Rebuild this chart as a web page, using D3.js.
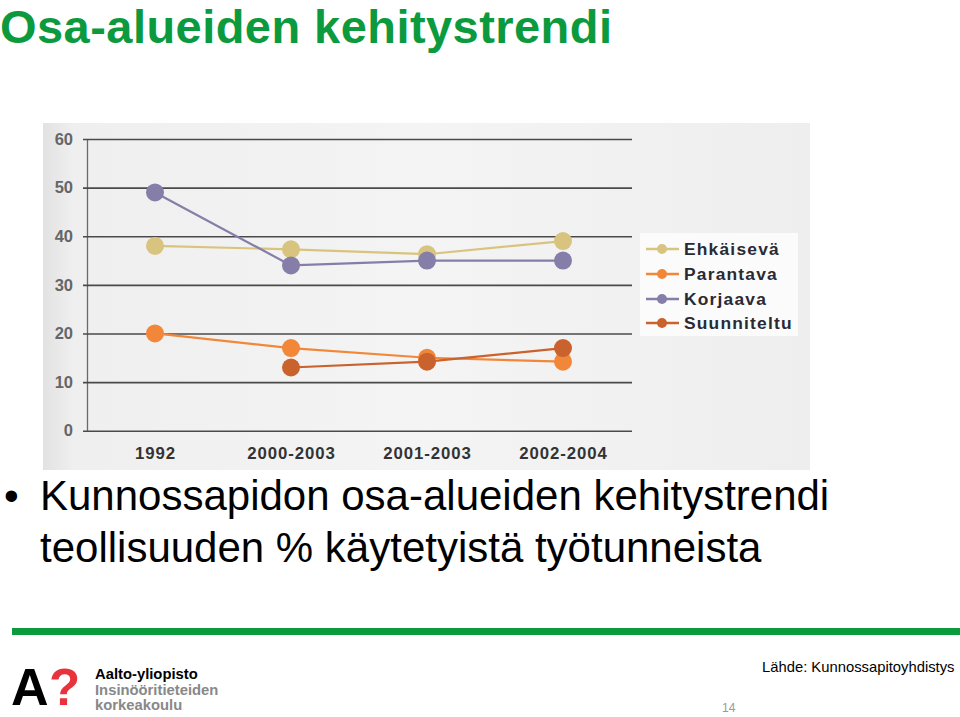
<!DOCTYPE html>
<html><head><meta charset="utf-8">
<script src="https://cdn.jsdelivr.net/npm/d3@7"></script>
<style>html,body{margin:0;padding:0;background:#fff;}svg{display:block;}</style>
</head><body>
<script>
const categories = ["1992","2000-2003","2001-2003","2002-2004"];
const seriesNames = ["Ehkäisevä","Parantava","Korjaava","Suunniteltu"];
const ehkaiseva = [38, 37.3, 36.3, 39];
const parantava = [20, 17, 15, 14.2];
const korjaava = [49, 34, 35, 35];
const suunniteltu = [null, 13, 14.2, 17];
const yTicks = [0,10,20,30,40,50,60];
const colors = ["#d9c47f","#f2873a","#857ea8","#c9622c"];

const W=960,H=717;
const svg=d3.select("body").append("svg").attr("width",W).attr("height",H);
const font="Liberation Sans, Arial, sans-serif";

// title
svg.append("text").attr("x",0).attr("y",42.5).attr("font-family",font)
  .attr("font-weight","bold").attr("font-size",47).attr("letter-spacing","0.45").attr("fill","#0c9a3e").text("Osa-alueiden kehitystrendi");

// chart background (scanned image area)
const defs=svg.append("defs");
const g1=defs.append("linearGradient").attr("id","bg").attr("x1","0").attr("x2","1").attr("y1","0").attr("y2","0");
g1.append("stop").attr("offset","0").attr("stop-color","#e2e2e2");
g1.append("stop").attr("offset","0.04").attr("stop-color","#efefef");
g1.append("stop").attr("offset","0.5").attr("stop-color","#f4f4f4");
g1.append("stop").attr("offset","1").attr("stop-color","#eeeeee");
svg.append("rect").attr("x",43).attr("y",123).attr("width",767).attr("height",347).attr("fill","url(#bg)");

const y=d3.scaleLinear().domain([0,60]).range([430.7,139]);
const x=d3.scalePoint().domain(categories).range([155,563]);

// gridlines
const gy=svg.append("g").attr("transform","translate(87,0)")
  .call(d3.axisLeft(y).tickValues(yTicks).tickSize(-545).tickSizeOuter(0).tickPadding(14));
gy.select(".domain").attr("stroke","#6a6a6a").attr("stroke-width",1.3);
gy.selectAll(".tick line").attr("stroke","#4a4a4a").attr("stroke-width",1.6).attr("x1",-4);
gy.selectAll(".tick text").attr("font-family",font).attr("font-weight","bold").attr("font-size",16.5).attr("fill","#666");

// x labels
const gx=svg.append("g").attr("transform","translate(0,431)")
  .call(d3.axisBottom(x).tickSize(0).tickPadding(16));
gx.select(".domain").remove();
gx.selectAll(".tick text").attr("font-family",font).attr("font-weight","bold").attr("font-size",16.8).attr("fill","#333").attr("letter-spacing","0.9");

const allSeries=[ehkaiseva,parantava,korjaava,suunniteltu];
const line=d3.line().defined(d=>d!=null).x((d,i)=>x(categories[i])).y(d=>y(d));
const order=[0,2,1,3];
order.forEach(si=>{
  svg.append("path").attr("d",line(allSeries[si])).attr("fill","none").attr("stroke",colors[si]).attr("stroke-width",2.2);
});
order.forEach(si=>{
  const vals=allSeries[si];
  svg.selectAll(null).data(vals.map((v,i)=>({v,i})).filter(d=>d.v!=null)).enter().append("circle")
    .attr("cx",d=>x(categories[d.i])).attr("cy",d=>y(d.v)).attr("r",9).attr("fill",colors[si]);
});

// legend
svg.append("rect").attr("x",640).attr("y",233).attr("width",158).attr("height",103).attr("fill","#fbfbfb");
const ly=[249,274,299,323];
seriesNames.forEach((n,i)=>{
  svg.append("line").attr("x1",646).attr("x2",679).attr("y1",ly[i]).attr("y2",ly[i]).attr("stroke",colors[i]).attr("stroke-width",2.5);
  svg.append("circle").attr("cx",662).attr("cy",ly[i]).attr("r",5).attr("fill",colors[i]);
  svg.append("text").attr("x",684).attr("y",ly[i]+6).attr("font-family",font).attr("font-weight","bold")
    .attr("font-size",17.4).attr("letter-spacing","1.2").attr("fill","#2a2a35").text(n);
});

// bullet text
svg.append("text").attr("x",4).attr("y",510).attr("font-family",font).attr("font-size",42).attr("fill","#000").text("•");
svg.append("text").attr("x",40).attr("y",510).attr("font-family",font).attr("font-size",42).attr("fill","#000").text("Kunnossapidon osa-alueiden kehitystrendi");
svg.append("text").attr("x",40).attr("y",562).attr("font-family",font).attr("font-size",42).attr("fill","#000").text("teollisuuden % käytetyistä työtunneista");

// green bar
svg.append("rect").attr("x",12).attr("y",628).attr("width",948).attr("height",7).attr("fill","#0c9a3e");

// footer
svg.append("text").attr("x",762).attr("y",672).attr("font-family",font).attr("font-size",14.8).attr("fill","#000").text("Lähde: Kunnossapitoyhdistys");
svg.append("text").attr("x",722).attr("y",712).attr("font-family",font).attr("font-size",12).attr("fill","#999").text("14");

// logo
svg.append("text").attr("x",11).attr("y",705).attr("font-family",font).attr("font-weight","bold").attr("font-size",52).attr("fill","#000").text("A");
svg.append("text").attr("x",49).attr("y",705).attr("font-family",font).attr("font-weight","bold").attr("font-size",51).attr("fill","#e8333c").text("?");
svg.append("text").attr("x",95).attr("y",679).attr("font-family",font).attr("font-weight","bold").attr("font-size",14.8).attr("fill","#000").text("Aalto-yliopisto");
svg.append("text").attr("x",95).attr("y",695).attr("font-family",font).attr("font-weight","bold").attr("font-size",14.8).attr("fill","#888").text("Insinööritieteiden");
svg.append("text").attr("x",95).attr("y",710).attr("font-family",font).attr("font-weight","bold").attr("font-size",14.8).attr("fill","#888").text("korkeakoulu");
</script>
</body></html>
